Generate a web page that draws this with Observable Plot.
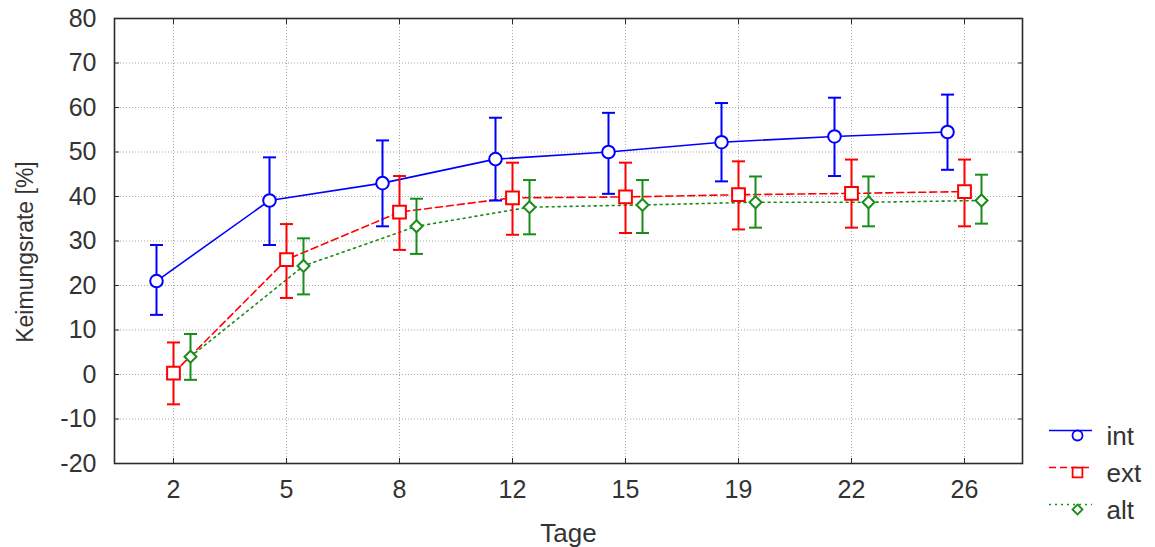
<!DOCTYPE html>
<html>
<head>
<meta charset="utf-8">
<script src="https://cdn.jsdelivr.net/npm/d3@7"></script>
<script src="https://cdn.jsdelivr.net/npm/@observablehq/plot@0.6"></script>
<style>
  html, body { margin: 0; padding: 0; background: #fff; }
  #chart svg { display: block; }
</style>
</head>
<body>
<div id="chart"></div>
<script>
// ---- data ----
const days = ["2", "5", "8", "12", "15", "19", "22", "26"];
const yTicks = [-20, -10, 0, 10, 20, 30, 40, 50, 60, 70, 80];
const seriesNames = ["int", "ext", "alt"];

const intMean = [21.0, 39.1, 43.0, 48.4, 50.0, 52.2, 53.5, 54.5];
const intLow  = [13.4, 29.1, 33.3, 39.1, 40.6, 43.4, 44.6, 46.0];
const intHigh = [29.1, 48.8, 52.6, 57.7, 58.8, 61.0, 62.2, 62.9];

const extMean = [0.3, 25.8, 36.5, 39.7, 39.9, 40.4, 40.7, 41.1];
const extLow  = [-6.7, 17.2, 28.0, 31.4, 31.8, 32.6, 33.0, 33.3];
const extHigh = [7.2, 33.8, 44.6, 47.6, 47.6, 47.9, 48.3, 48.3];

const altMean = [4.0, 24.4, 33.3, 37.6, 38.1, 38.7, 38.7, 39.1];
const altLow  = [-1.2, 18.0, 27.1, 31.5, 31.8, 33.0, 33.3, 33.9];
const altHigh = [9.1, 30.6, 39.5, 43.7, 43.7, 44.5, 44.5, 44.9];

const yLabel = "Keimungsrate [%]";
const xLabel = "Tage";

// ---- styles ----
const FONT = "'Liberation Sans', Arial, sans-serif";
const styles = {
  int: {color: "#0000ff", dash: null, symbol: "circle", r: 6.3, dx: -17, legendR: 5},
  ext: {color: "#ff0000", dash: "7,4", symbol: "square", r: 7.2, dx: 0, legendR: 5.5},
  alt: {color: "#1a8c1a", dash: "2,4", symbol: "diamond2", r: 5.4, dx: 17, legendR: 4.5}
};

const raw = {
  int: [intMean, intLow, intHigh],
  ext: [extMean, extLow, extHigh],
  alt: [altMean, altLow, altHigh]
};
const tables = {};
for (const s of seriesNames) {
  const [m, lo, hi] = raw[s];
  tables[s] = days.map((d, i) => ({day: d, mean: m[i], lo: lo[i], hi: hi[i]}));
}

// custom symbols
const capSymbol = { draw(ctx) { ctx.moveTo(-6.5, 0); ctx.lineTo(6.5, 0); } };
const legendLineSymbol = { draw(ctx) { ctx.moveTo(-21.5, 0); ctx.lineTo(21.5, 0); } };

const gridStyle = {stroke: "#a8a8a8", strokeOpacity: 1, strokeDasharray: "1,2", strokeWidth: 1};

const marks = [
  Plot.gridX(days, gridStyle),
  Plot.gridY(yTicks, gridStyle)
];

for (const s of seriesNames) {
  const st = styles[s];
  const t = tables[s];
  marks.push(
    Plot.line(t, {x: "day", y: "mean", dx: st.dx, stroke: st.color, strokeWidth: 1.6, strokeDasharray: st.dash})
  );
}
for (const s of seriesNames) {
  const st = styles[s];
  const t = tables[s];
  marks.push(
    Plot.ruleX(t, {x: "day", y1: "lo", y2: "hi", dx: st.dx, stroke: st.color, strokeWidth: 2}),
    Plot.dot(t, {x: "day", y: "lo", dx: st.dx, symbol: capSymbol, fill: "none", stroke: st.color, strokeWidth: 2}),
    Plot.dot(t, {x: "day", y: "hi", dx: st.dx, symbol: capSymbol, fill: "none", stroke: st.color, strokeWidth: 2}),
    Plot.dot(t, {x: "day", y: "mean", dx: st.dx, symbol: st.symbol, r: st.r, fill: "white", stroke: st.color, strokeWidth: 2})
  );
}

marks.push(
  Plot.frame({stroke: "#2a2a2a", strokeWidth: 1.6}),
  Plot.axisY(yTicks, {anchor: "left", tickSize: -5, tickPadding: 23, label: null, fill: "#333", fontSize: 25, stroke: "#2a2a2a", tickFormat: d => String(d)}),
  Plot.axisY(yTicks, {anchor: "right", tickSize: -5, tickFormat: () => "", label: null, stroke: "#2a2a2a"}),
  Plot.axisX(days, {anchor: "bottom", tickSize: -5, tickPadding: 22, label: null, fill: "#333", fontSize: 25, stroke: "#2a2a2a"}),
  Plot.axisX(days, {anchor: "top", tickSize: -5, tickFormat: () => "", label: null, stroke: "#2a2a2a"}),
  Plot.text([yLabel], {frameAnchor: "left", textAnchor: "middle", lineAnchor: "middle", dx: -89, dy: 11, rotate: -90, fontSize: 23, fill: "#333"}),
  Plot.text([xLabel], {frameAnchor: "bottom", textAnchor: "middle", lineAnchor: "middle", dy: 70, fontSize: 26, fill: "#333"})
);

// legend (pixel offsets from the frame's bottom-right corner)
const legendPos = {int: -31, ext: 6, alt: 43};
for (const s of seriesNames) {
  const st = styles[s];
  const base = legendPos[s];
  marks.push(
    Plot.dot([s], {frameAnchor: "bottom-right", dx: 48, dy: base - 2, symbol: legendLineSymbol, fill: "none", stroke: st.color, strokeWidth: 1.6, strokeDasharray: st.dash}),
    Plot.dot([s], {frameAnchor: "bottom-right", dx: 55, dy: base + 3, symbol: st.symbol, r: st.legendR, fill: "white", stroke: st.color, strokeWidth: 1.8}),
    Plot.text([s], {frameAnchor: "bottom-right", dx: 84, dy: base + 4, text: d => d, textAnchor: "start", lineAnchor: "middle", fontSize: 26, fill: "#333"})
  );
}

const chart = Plot.plot({
  width: 1155,
  height: 547,
  marginLeft: 114,
  marginRight: 133,
  marginTop: 18,
  marginBottom: 84,
  style: {fontFamily: FONT, background: "#fff", color: "#333"},
  x: {type: "point", domain: days, padding: 0.5, label: null, axis: null},
  y: {domain: [-20, 80], label: null, axis: null},
  marks
});
document.getElementById("chart").append(chart);
</script>
</body>
</html>
